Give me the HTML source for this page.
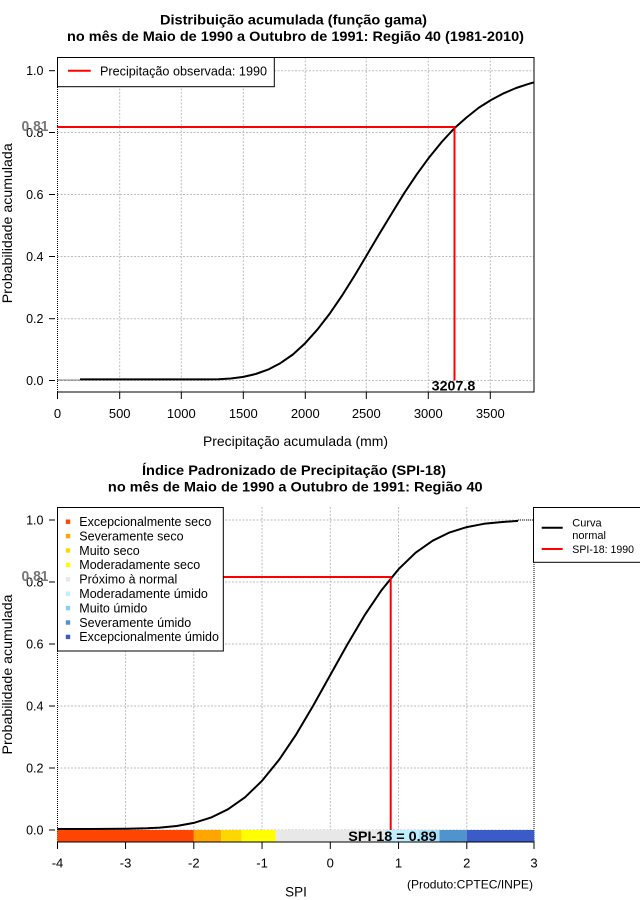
<!DOCTYPE html>
<html><head><meta charset="utf-8"><style>
html,body{margin:0;padding:0;background:#fff;}
svg{display:block;}
text{font-family:"Liberation Sans",Arial,sans-serif;fill:#000;}
</style></head><body>
<svg width="640" height="900" viewBox="0 0 640 900" xmlns="http://www.w3.org/2000/svg">
<rect x="0" y="0" width="640" height="900" fill="#fff"/>

<!-- ============ TOP PLOT ============ -->
<text x="293.5" y="24.5" font-size="14" font-weight="bold" text-anchor="middle" textLength="267" lengthAdjust="spacingAndGlyphs">Distribuição acumulada (função gama)</text>
<text x="295.5" y="41" font-size="14" font-weight="bold" text-anchor="middle" textLength="457" lengthAdjust="spacingAndGlyphs">no mês de Maio de 1990 a Outubro de 1991: Região 40 (1981-2010)</text>

<!-- grid -->
<g stroke="#bdbdbd" stroke-width="1" stroke-dasharray="2,1.5" fill="none">
<line x1="119.7" y1="57" x2="119.7" y2="392"/>
<line x1="181.3" y1="57" x2="181.3" y2="392"/>
<line x1="243.3" y1="57" x2="243.3" y2="392"/>
<line x1="305.3" y1="57" x2="305.3" y2="392"/>
<line x1="366.3" y1="57" x2="366.3" y2="392"/>
<line x1="428.3" y1="57" x2="428.3" y2="392"/>
<line x1="490.3" y1="57" x2="490.3" y2="392"/>
<line x1="57" y1="380.5" x2="534" y2="380.5"/>
<line x1="57" y1="318.7" x2="534" y2="318.7"/>
<line x1="57" y1="256.5" x2="534" y2="256.5"/>
<line x1="57" y1="194.5" x2="534" y2="194.5"/>
<line x1="57" y1="132.5" x2="534" y2="132.5"/>
<line x1="57" y1="70.7" x2="534" y2="70.7"/>
</g>

<!-- box -->
<g stroke="#000" stroke-width="1" fill="none">
<line x1="57" y1="57.5" x2="534.5" y2="57.5"/>
<line x1="534" y1="57" x2="534" y2="392.5"/>
<line x1="57" y1="392" x2="534.5" y2="392"/>
<line x1="57.5" y1="87" x2="57.5" y2="392" stroke-dasharray="1,1"/>
</g>

<!-- y ticks -->
<g stroke="#000" stroke-width="1">
<line x1="49" y1="380.5" x2="55" y2="380.5"/>
<line x1="49" y1="318.7" x2="55" y2="318.7"/>
<line x1="49" y1="256.5" x2="55" y2="256.5"/>
<line x1="49" y1="194.5" x2="55" y2="194.5"/>
<line x1="49" y1="132.5" x2="55" y2="132.5"/>
<line x1="49" y1="70.7" x2="55" y2="70.7"/>
</g>
<g font-size="12.5" text-anchor="end">
<text x="43.5" y="385">0.0</text>
<text x="43.5" y="323.2">0.2</text>
<text x="43.5" y="261">0.4</text>
<text x="43.5" y="199">0.6</text>
<text x="43.5" y="137">0.8</text>
<text x="43.5" y="75.2">1.0</text>
</g>

<!-- x ticks -->
<g stroke="#000" stroke-width="1">
<line x1="57.5" y1="392" x2="57.5" y2="399"/>
<line x1="119.7" y1="392" x2="119.7" y2="399"/>
<line x1="181.3" y1="392" x2="181.3" y2="399"/>
<line x1="243.3" y1="392" x2="243.3" y2="399"/>
<line x1="305.3" y1="392" x2="305.3" y2="399"/>
<line x1="366.3" y1="392" x2="366.3" y2="399"/>
<line x1="428.3" y1="392" x2="428.3" y2="399"/>
<line x1="490.3" y1="392" x2="490.3" y2="399"/>
</g>
<g font-size="13" text-anchor="middle">
<text x="57.5" y="418">0</text>
<text x="119.7" y="418">500</text>
<text x="181.3" y="418">1000</text>
<text x="243.3" y="418">1500</text>
<text x="305.3" y="418">2000</text>
<text x="366.3" y="418">2500</text>
<text x="428.3" y="418">3000</text>
<text x="490.3" y="418">3500</text>
</g>
<text x="295.5" y="446" font-size="14" text-anchor="middle" textLength="185" lengthAdjust="spacingAndGlyphs">Precipitação acumulada (mm)</text>
<text transform="translate(12,223.3) rotate(-90)" font-size="14" text-anchor="middle" textLength="160" lengthAdjust="spacingAndGlyphs">Probabilidade acumulada</text>

<!-- gamma curve -->
<line x1="57.5" y1="380" x2="80" y2="380" stroke="#000" stroke-width="1" stroke-dasharray="1,1"/>
<polyline fill="none" stroke="#000" stroke-width="2" stroke-linejoin="round" points="80,379.4 206.1,379.4 218.5,379.2 230.9,378.5 243.3,376.9 255.7,374.0 268.1,369.6 280.5,363.1 292.9,354.5 305.3,343.1 317.7,329.2 330.1,313.1 342.5,294.9 354.9,275.1 367.3,254.3 379.7,233.3 392.1,212.9 404.5,192.7 416.9,174.2 429.3,157.2 441.7,142.0 454.1,128.5 466.5,117.5 478.9,107.6 491.3,99.9 503.7,93.3 516.1,88.0 528.5,83.9 534,82.3"/>

<!-- red lines -->
<line x1="57" y1="127" x2="455" y2="127" stroke="#ff0000" stroke-width="2"/>
<line x1="454.5" y1="126" x2="454.5" y2="380.5" stroke="#ff0000" stroke-width="2"/>

<text x="35" y="131" font-size="14.5" font-weight="bold" style="fill:#777777" text-anchor="middle" textLength="27" lengthAdjust="spacingAndGlyphs">0.81</text>
<text x="453.5" y="390.5" font-size="14" font-weight="bold" text-anchor="middle" textLength="43.6" lengthAdjust="spacingAndGlyphs">3207.8</text>

<!-- legend top -->
<rect x="57.5" y="57.5" width="216.8" height="29.2" fill="#fff" stroke="#000" stroke-width="1"/>
<line x1="68" y1="70.7" x2="90.7" y2="70.7" stroke="#ff0000" stroke-width="2"/>
<text x="100" y="75.5" font-size="12.5" textLength="167" lengthAdjust="spacingAndGlyphs">Precipitação observada: 1990</text>

<!-- ============ BOTTOM PLOT ============ -->
<text x="294" y="475" font-size="14" font-weight="bold" text-anchor="middle" textLength="304" lengthAdjust="spacingAndGlyphs">Índice Padronizado de Precipitação (SPI-18)</text>
<text x="295.3" y="491.5" font-size="14" font-weight="bold" text-anchor="middle" textLength="374.7" lengthAdjust="spacingAndGlyphs">no mês de Maio de 1990 a Outubro de 1991: Região 40</text>

<!-- grid -->
<g stroke="#bdbdbd" stroke-width="1" stroke-dasharray="2,1.5" fill="none">
<line x1="125.55" y1="507" x2="125.55" y2="842"/>
<line x1="193.8" y1="507" x2="193.8" y2="842"/>
<line x1="262.05" y1="507" x2="262.05" y2="842"/>
<line x1="330.3" y1="507" x2="330.3" y2="842"/>
<line x1="398.55" y1="507" x2="398.55" y2="842"/>
<line x1="466.8" y1="507" x2="466.8" y2="842"/>
<line x1="57" y1="830" x2="534" y2="830"/>
<line x1="57" y1="768" x2="534" y2="768"/>
<line x1="57" y1="706" x2="534" y2="706"/>
<line x1="57" y1="644" x2="534" y2="644"/>
<line x1="57" y1="582" x2="534" y2="582"/>
<line x1="57" y1="520" x2="534" y2="520"/>
</g>

<!-- dotted borders -->
<g stroke="#000" stroke-width="1" stroke-dasharray="1,1" fill="none">
<line x1="57.5" y1="651" x2="57.5" y2="842"/>
<line x1="534" y1="562" x2="534" y2="842"/>
<line x1="518" y1="520" x2="534" y2="520"/>
</g>

<!-- y ticks -->
<g stroke="#000" stroke-width="1">
<line x1="49" y1="830" x2="55" y2="830"/>
<line x1="49" y1="768" x2="55" y2="768"/>
<line x1="49" y1="706" x2="55" y2="706"/>
<line x1="49" y1="644" x2="55" y2="644"/>
<line x1="49" y1="582" x2="55" y2="582"/>
<line x1="49" y1="520" x2="55" y2="520"/>
</g>
<g font-size="12.5" text-anchor="end">
<text x="43.5" y="834.5">0.0</text>
<text x="43.5" y="772.5">0.2</text>
<text x="43.5" y="710.5">0.4</text>
<text x="43.5" y="648.5">0.6</text>
<text x="43.5" y="586.5">0.8</text>
<text x="43.5" y="524.5">1.0</text>
</g>

<!-- normal curve -->
<polyline fill="none" stroke="#000" stroke-width="2" stroke-linejoin="round" points="57.3,829 91.4,829 125.55,828.8 147,828.3 159.7,827.6 176.7,826 193.8,822.9 210.9,817.6 227.9,809.3 245.0,797.3 262.05,780.8 279.1,759.8 296.2,734.4 313.2,705.6 330.3,675.0 347.4,644.4 364.4,615.6 381.5,590.2 398.55,569.2 415.6,552.7 432.7,540.7 449.7,532.4 466.8,527.1 483.9,523.8 500.9,522.1 518,520.9"/>

<!-- colour bar -->
<rect x="57.3" y="830" width="136.5" height="12" fill="#ff4500"/>
<rect x="193.8" y="830" width="27.3" height="12" fill="#ffa500"/>
<rect x="221.1" y="830" width="20.5" height="12" fill="#ffd700"/>
<rect x="241.6" y="830" width="34.1" height="12" fill="#ffff00"/>
<rect x="275.7" y="830" width="109.2" height="12" fill="#e8e8e8"/>
<rect x="384.9" y="830" width="34.1" height="12" fill="#bfefff"/>
<rect x="419" y="830" width="20.5" height="12" fill="#a8e0fa"/>
<rect x="439.5" y="830" width="27.3" height="12" fill="#4f94cd"/>
<rect x="466.8" y="830" width="67.5" height="12" fill="#3a5bc8"/>

<!-- x axis -->
<line x1="57" y1="842" x2="534.5" y2="842" stroke="#000" stroke-width="1"/>
<g stroke="#000" stroke-width="1">
<line x1="57.5" y1="842" x2="57.5" y2="849"/>
<line x1="125.55" y1="842" x2="125.55" y2="849"/>
<line x1="193.8" y1="842" x2="193.8" y2="849"/>
<line x1="262.05" y1="842" x2="262.05" y2="849"/>
<line x1="330.3" y1="842" x2="330.3" y2="849"/>
<line x1="398.55" y1="842" x2="398.55" y2="849"/>
<line x1="466.8" y1="842" x2="466.8" y2="849"/>
<line x1="534" y1="842" x2="534" y2="849"/>
</g>
<g font-size="13" text-anchor="middle">
<text x="57.5" y="867.5">-4</text>
<text x="125.55" y="867.5">-3</text>
<text x="193.8" y="867.5">-2</text>
<text x="262.05" y="867.5">-1</text>
<text x="330.3" y="867.5">0</text>
<text x="398.55" y="867.5">1</text>
<text x="466.8" y="867.5">2</text>
<text x="534" y="867.5">3</text>
</g>
<text x="296" y="896.5" font-size="14" text-anchor="middle" textLength="21.7" lengthAdjust="spacingAndGlyphs">SPI</text>
<text x="407" y="888.5" font-size="12" textLength="126" lengthAdjust="spacingAndGlyphs">(Produto:CPTEC/INPE)</text>
<text transform="translate(12,674.5) rotate(-90)" font-size="14" text-anchor="middle" textLength="160" lengthAdjust="spacingAndGlyphs">Probabilidade acumulada</text>

<!-- red lines -->
<line x1="57" y1="577" x2="391.5" y2="577" stroke="#ff0000" stroke-width="2"/>
<line x1="390.7" y1="576" x2="390.7" y2="830" stroke="#ff0000" stroke-width="2"/>

<text x="35" y="581" font-size="14.5" font-weight="bold" style="fill:#777777" text-anchor="middle" textLength="27" lengthAdjust="spacingAndGlyphs">0.81</text>
<text x="392.5" y="841" font-size="14" font-weight="bold" text-anchor="middle" textLength="88.4" lengthAdjust="spacingAndGlyphs">SPI-18 = 0.89</text>

<!-- legend left -->
<rect x="57.5" y="507.5" width="165.8" height="143.5" fill="#fff" stroke="#000" stroke-width="1"/>
<g font-size="12.5">
<rect x="65.8" y="519.5" width="4.4" height="4.4" fill="#ff4500"/>
<text x="79.3" y="526">Excepcionalmente seco</text>
<rect x="65.8" y="533.9" width="4.4" height="4.4" fill="#ffa500"/>
<text x="79.3" y="540.4">Severamente seco</text>
<rect x="65.8" y="548.3" width="4.4" height="4.4" fill="#ffd700"/>
<text x="79.3" y="554.8">Muito seco</text>
<rect x="65.8" y="562.7" width="4.4" height="4.4" fill="#ffff00"/>
<text x="79.3" y="569.2">Moderadamente seco</text>
<rect x="65.8" y="577.1" width="4.4" height="4.4" fill="#e8e8e8"/>
<text x="79.3" y="583.6">Próximo à normal</text>
<rect x="65.8" y="591.5" width="4.4" height="4.4" fill="#bfefff"/>
<text x="79.3" y="598">Moderadamente úmido</text>
<rect x="65.8" y="605.9" width="4.4" height="4.4" fill="#87cefa"/>
<text x="79.3" y="612.4">Muito úmido</text>
<rect x="65.8" y="620.3" width="4.4" height="4.4" fill="#4f94cd"/>
<text x="79.3" y="626.8">Severamente úmido</text>
<rect x="65.8" y="634.7" width="4.4" height="4.4" fill="#3a5bc8"/>
<text x="79.3" y="641.2">Excepcionalmente úmido</text>
</g>

<!-- legend right -->
<rect x="533.5" y="507.5" width="110" height="54.8" fill="#fff" stroke="#000" stroke-width="1"/>
<line x1="541.7" y1="527.7" x2="562.7" y2="527.7" stroke="#000" stroke-width="2"/>
<line x1="541.7" y1="549" x2="562.7" y2="549" stroke="#ff0000" stroke-width="2"/>
<g font-size="11">
<text x="572.3" y="526.5">Curva</text>
<text x="572.3" y="539">normal</text>
<text x="572.3" y="553" textLength="61.7" lengthAdjust="spacingAndGlyphs">SPI-18: 1990</text>
</g>
</svg>
</body></html>
